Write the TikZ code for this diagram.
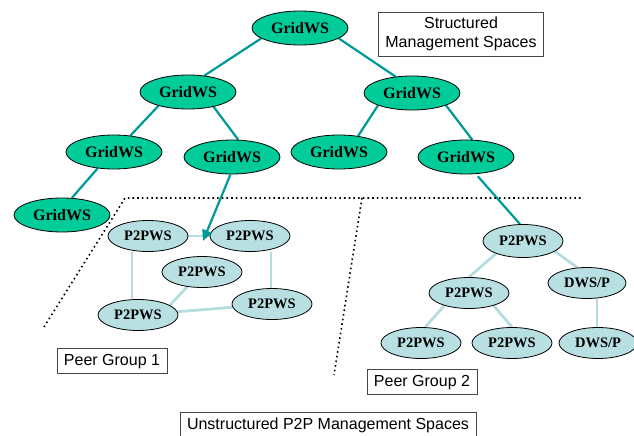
\documentclass[tikz,border=0pt]{standalone}
\usepackage{fontspec}
\setmainfont{Liberation Serif}
\setsansfont{Liberation Sans}
\usetikzlibrary{shapes.geometric,arrows.meta,backgrounds}
\definecolor{gridgreen}{RGB}{0,204,153}
\definecolor{peerblue}{RGB}{184,224,227}
\definecolor{tealline}{RGB}{0,153,153}
\definecolor{peerline}{RGB}{180,221,224}
\definecolor{boxgray}{RGB}{70,70,70}
\begin{document}
\begin{tikzpicture}[x=1pt,y=-1pt,
 gridnode/.style={ellipse,draw=black,line width=0.8pt,fill=gridgreen,minimum width=96pt,minimum height=34pt,inner sep=0pt,font=\fontsize{16}{16}\selectfont\bfseries},
 peernode/.style={ellipse,draw=black,line width=0.8pt,fill=peerblue,minimum width=80pt,minimum height=31pt,inner sep=0pt,font=\fontsize{14.5}{14.5}\selectfont\bfseries},
 tlink/.style={draw=tealline,line width=2.2pt},
 plink/.style={draw=peerline,line width=2.8pt},
 tagbox/.style={draw=boxgray,line width=0.9pt,fill=white,font=\sffamily\fontsize{16}{19}\selectfont,inner xsep=7pt,inner ysep=5pt,text height=12pt,text depth=3.5pt},
 tagbox2/.style={draw=boxgray,line width=0.9pt,fill=white,font=\sffamily\fontsize{16}{19}\selectfont,inner xsep=7pt,inner ysep=5pt,align=center},
 sepline/.style={line width=1.6pt,dash pattern=on 1.6pt off 3.1pt}
]
\useasboundingbox (0,0) rectangle (634,436);

% GridWS tree
\node[gridnode] (G0) at (300,28) {GridWS};
\node[gridnode] (G1) at (188,92) {GridWS};
\node[gridnode] (G2) at (412,93) {GridWS};
\node[gridnode] (G3) at (114,152) {GridWS};
\node[gridnode] (G4) at (232,157) {GridWS};
\node[gridnode] (G5) at (339,152) {GridWS};
\node[gridnode] (G6) at (466,157) {GridWS};
\node[gridnode] (G7) at (62,215) {GridWS};

% Peer group 1
\node[peernode] (P1) at (148,236) {P2PWS};
\node[peernode] (P2) at (250,236) {P2PWS};
\node[peernode] (P3) at (202,272) {P2PWS};
\node[peernode] (P4) at (138,315) {P2PWS};
\node[peernode] (P5) at (272,304) {P2PWS};

% Peer group 2
\node[peernode,minimum height=33pt] (Q1) at (523,241) {P2PWS};
\node[peernode] (Q2) at (469,293) {P2PWS};
\node[peernode,minimum width=78pt] (Q3) at (587,283) {DWS/P};
\node[peernode] (Q4) at (421,343) {P2PWS};
\node[peernode] (Q5) at (512,343) {P2PWS};
\node[peernode,minimum width=78pt] (Q6) at (598,343) {DWS/P};

% labels
\node[tagbox2] (T1) at (461,34) {Structured\\Management Spaces};
\node[tagbox] (T2) at (112,361) {Peer Group 1};
\node[tagbox] (T3) at (422,382) {Peer Group 2};
\node[tagbox,anchor=north] (T4) at (328,412) {Unstructured P2P Management Spaces};

% separators
\coordinate (d1) at (44,327);
\coordinate (d2) at (125,198);
\coordinate (d3) at (582,198);
\coordinate (d4) at (362,198);
\coordinate (d5) at (334,375);
\draw[sepline] (d1) -- (d2) -- (d3);
\draw[sepline] (d4) -- (d5);

\coordinate (a1) at (203,241);

\begin{scope}[on background layer]
\fill[white] (0,0) rectangle (634,436);
\draw[tlink] (G0.195) -- (G1.45);
\draw[tlink] (G0.-15) -- (G2.135);
\draw[tlink] (G1.205) -- (G3.45);
\draw[tlink] (G1.-30) -- (G4.70);
\draw[tlink] (G2.200) -- (G5.40);
\draw[tlink] (G2.-20) -- (G6.70);
\draw[tlink] (G3.225) -- (G7.60);
\draw[tlink,shorten <=3pt] (G6.-60) -- (Q1.100);

\draw[plink] (P1) -- (P2);
\draw[plink] ([xshift=-16pt]P1.south) -- ([xshift=-16pt]P1.south |- P4.north);
\draw[plink] ([xshift=21pt]P2.south) -- ([xshift=21pt]P2.south |- P5.north);
\draw[plink] (P3.225) -- (P4.17);
\draw[plink] (P4) -- (P5);

\draw[plink] (Q1.205) -- (Q2.north);
\draw[plink] (Q1.-18) -- (Q3.122);
\draw[plink] (Q2.207) -- (Q4.75);
\draw[plink] (Q2.-27) -- (Q5.north);
\draw[plink] ([xshift=10pt]Q3.south) -- ([xshift=10pt]Q3.south |- Q6.north);
\end{scope}
\draw[tlink,-{Triangle[length=11pt,width=10pt]}] (G4.265) -- (a1);
\end{tikzpicture}
\end{document}
